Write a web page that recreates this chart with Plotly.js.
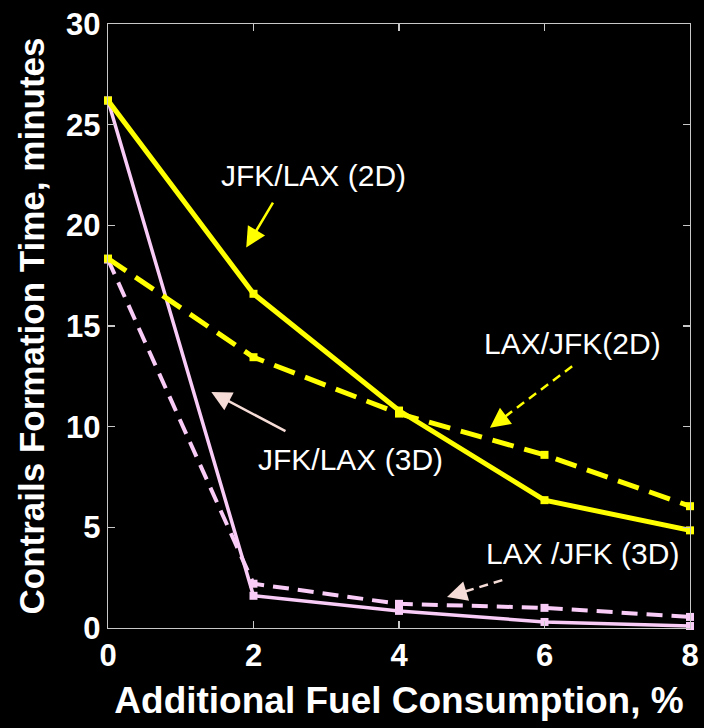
<!DOCTYPE html>
<html>
<head>
<meta charset="utf-8">
<script src="https://cdn.plot.ly/plotly-3.0.1.min.js"></script>
<style>html,body{margin:0;padding:0;background:#000;}#chart{width:704px;height:728px;}</style>
</head>
<body>
<div id="chart"></div>
<script>
const fuel = [0, 2, 4, 6, 8];
const jfkLax2D = [26.2, 16.6, 10.8, 6.35, 4.85];
const laxJfk2D = [18.35, 13.45, 10.65, 8.6, 6.05];
const jfkLax3D = [26.2, 1.6, 0.85, 0.3, 0.1];
const laxJfk3D = [18.3, 2.2, 1.2, 1.0, 0.55];
const xTicks = [0, 2, 4, 6, 8];
const yTicks = [0, 5, 10, 15, 20, 25, 30];

const yellow = '#ffff00';
const pink = '#f8ccf6';
const peach = '#f6dcd6';

function series(y, color, width, dash) {
  return {x: fuel, y: y, mode: 'lines+markers', type: 'scatter', cliponaxis: false,
    line: {color: color, width: width, dash: dash},
    marker: {symbol: 'square', size: 8, color: color}, showlegend: false, hoverinfo: 'skip'};
}

const traces = [
  series(laxJfk3D, pink, 4, '16px,9px'),
  series(jfkLax3D, pink, 3.5, 'solid'),
  series(laxJfk2D, yellow, 5, '22px,11px'),
  series(jfkLax2D, yellow, 5, 'solid')
];

const labels = [
  {text: 'JFK/LAX (2D)', x: 2.82, y: 22.5},
  {text: 'LAX/JFK(2D)', x: 6.39, y: 14.15},
  {text: 'JFK/LAX (3D)', x: 3.33, y: 8.35},
  {text: 'LAX /JFK (3D)', x: 6.52, y: 3.7}
];
const arrows = [
  {tail: [2.28, 21.2], head: [1.90, 18.9], color: yellow, dash: false},
  {tail: [6.38, 13.0], head: [5.25, 9.94], color: yellow, dash: true},
  {tail: [2.46, 9.74], head: [1.42, 11.72], color: peach, dash: false},
  {tail: [5.42, 2.38], head: [4.66, 1.54], color: peach, dash: true}
];

const annotations = labels.map(l => ({
  text: l.text, x: l.x, y: l.y, xref: 'x', yref: 'y', showarrow: false,
  font: {family: 'Liberation Sans, Arial, sans-serif', size: 30, color: '#ffffff'}
}));
const shapes = [];
arrows.forEach(a => {
  if (a.dash) {
    shapes.push({type: 'line', xref: 'x', yref: 'y', x0: a.tail[0], y0: a.tail[1],
      x1: a.head[0] + 0.12 * (a.tail[0] - a.head[0]), y1: a.head[1] + 0.12 * (a.tail[1] - a.head[1]),
      line: {color: a.color, width: 2.5, dash: '9px,6px'}});
    annotations.push({text: '', x: a.head[0], y: a.head[1], xref: 'x', yref: 'y',
      axref: 'x', ayref: 'y', ax: a.head[0] + 0.15 * (a.tail[0] - a.head[0]), ay: a.head[1] + 0.15 * (a.tail[1] - a.head[1]),
      showarrow: true, arrowhead: 2, arrowsize: 1.6, arrowwidth: 2.5, arrowcolor: a.color});
  } else {
    annotations.push({text: '', x: a.head[0], y: a.head[1], xref: 'x', yref: 'y',
      axref: 'x', ayref: 'y', ax: a.tail[0], ay: a.tail[1],
      showarrow: true, arrowhead: 2, arrowsize: 1.6, arrowwidth: 2.5, arrowcolor: a.color});
  }
});

const tickFont = {family: 'Liberation Sans, Arial, sans-serif', size: 31, color: '#ffffff', weight: 'bold'};
const axisCommon = {
  showgrid: false, zeroline: false, showline: true, linecolor: '#c8c8c8', linewidth: 1.2,
  mirror: 'ticks', ticks: 'inside', ticklen: 7, tickcolor: '#c8c8c8', tickwidth: 1.2,
  tickfont: tickFont
};

const layout = {
  width: 704, height: 728,
  paper_bgcolor: '#000000', plot_bgcolor: '#000000',
  margin: {l: 108, r: 14, t: 24, b: 100},
  xaxis: Object.assign({}, axisCommon, {range: [0, 8], tickvals: xTicks, ticktext: xTicks.map(String),
    title: {text: 'Additional Fuel Consumption, %', standoff: 14,
      font: {family: 'Liberation Sans, Arial, sans-serif', size: 37, color: '#ffffff', weight: 'bold'}}}),
  yaxis: Object.assign({}, axisCommon, {range: [0, 30], tickvals: yTicks, ticktext: yTicks.map(String),
    title: {text: 'Contrails Formation Time, minutes', standoff: 10,
      font: {family: 'Liberation Sans, Arial, sans-serif', size: 35, color: '#ffffff', weight: 'bold'}}}),
  annotations: annotations,
  shapes: shapes,
  showlegend: false
};

Plotly.newPlot('chart', traces, layout, {displayModeBar: false, staticPlot: true});
</script>
</body>
</html>
